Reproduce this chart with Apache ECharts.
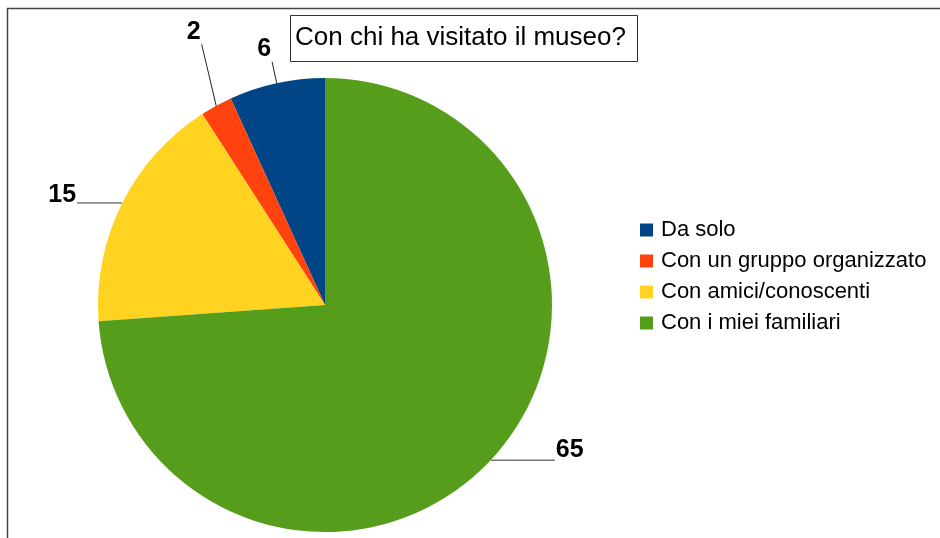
<!DOCTYPE html>
<html>
<head>
<meta charset="utf-8">
<script src="https://cdn.jsdelivr.net/npm/echarts@6/dist/echarts.min.js"></script>
<style>
  html, body { margin: 0; padding: 0; background: #fff; }
  #chart { width: 940px; height: 538px; }
</style>
</head>
<body>
<div id="chart"></div>
<script>
  // dati del grafico
  var categorie = ['Da solo', 'Con un gruppo organizzato', 'Con amici/conoscenti', 'Con i miei familiari'];
  var valori = [6, 2, 15, 65];
  var colori = ['#004586', '#ff420e', '#ffd320', '#579d1c'];

  var chart = echarts.init(document.getElementById('chart'));

  // stile delle etichette per ogni fetta (la riga vuota alza il numero sopra la linea)
  var etichette = [
    { line: { length: 22, length2: 0 }, lh: 26, col: '#222' },
    { line: { length: 70, length2: 0 }, lh: 25, col: '#222' },
    { line: { length: 1, length2: 44 }, lh: 16, col: '#333' },
    { line: { length: 1, length2: 63 }, lh: 20, col: '#777' }
  ];

  var dati = categorie.map(function (nome, i) {
    var e = etichette[i];
    return {
      name: nome,
      value: valori[i],
      itemStyle: { color: colori[i] },
      label: { lineHeight: e.lh },
      labelLine: {
        length: e.line.length,
        length2: e.line.length2,
        lineStyle: { color: e.col, width: i === 3 ? 1.5 : 1 }
      }
    };
  });

  var option = {
    animation: false,
    textStyle: { fontFamily: 'Liberation Sans' },
    title: {
      text: 'Con chi ha visitato il museo?',
      left: 290,
      top: 15,
      padding: [10, 12, 11, 5],
      borderColor: '#333',
      borderWidth: 1,
      textStyle: { fontSize: 26, fontWeight: 'normal', color: '#000', fontFamily: 'Liberation Sans' }
    },
    legend: {
      orient: 'vertical',
      left: 635,
      top: 214,
      itemGap: 9,
      itemWidth: 13,
      itemHeight: 13,
      icon: 'rect',
      data: categorie,
      textStyle: { fontSize: 22, color: '#000', padding: [0, 0, 0, 3], fontFamily: 'Liberation Sans' }
    },
    graphic: [{
      type: 'rect',
      shape: { x: 7.5, y: 8.5, width: 1000, height: 1000 },
      style: { fill: 'none', stroke: '#444', lineWidth: 1.5 },
      silent: true
    }],
    series: [{
      type: 'pie',
      center: [325, 305],
      radius: 227,
      startAngle: 90,
      clockwise: false,
      avoidLabelOverlap: false,
      label: {
        show: true,
        position: 'outside',
        formatter: '{c}\n',
        fontSize: 25,
        fontWeight: 'bold',
        color: '#000',
        fontFamily: 'Liberation Sans',
        distanceToLabelLine: 1
      },
      labelLine: {
        show: true,
        smooth: false,
        minTurnAngle: 0,
        maxSurfaceAngle: 180
      },
      labelLayout: function (params) {
        // l'etichetta "2" e la sua linea spostate verso destra come nell'originale
        if (params.dataIndex === 1 && params.labelLinePoints) {
          var p = params.labelLinePoints;
          var sposta = 19;
          return {
            dx: sposta,
            labelLinePoints: [p[0], [p[1][0] + sposta, p[1][1]], [p[2][0] + sposta, p[2][1]]]
          };
        }
      },
      data: dati
    }]
  };

  chart.setOption(option);
</script>
</body>
</html>
